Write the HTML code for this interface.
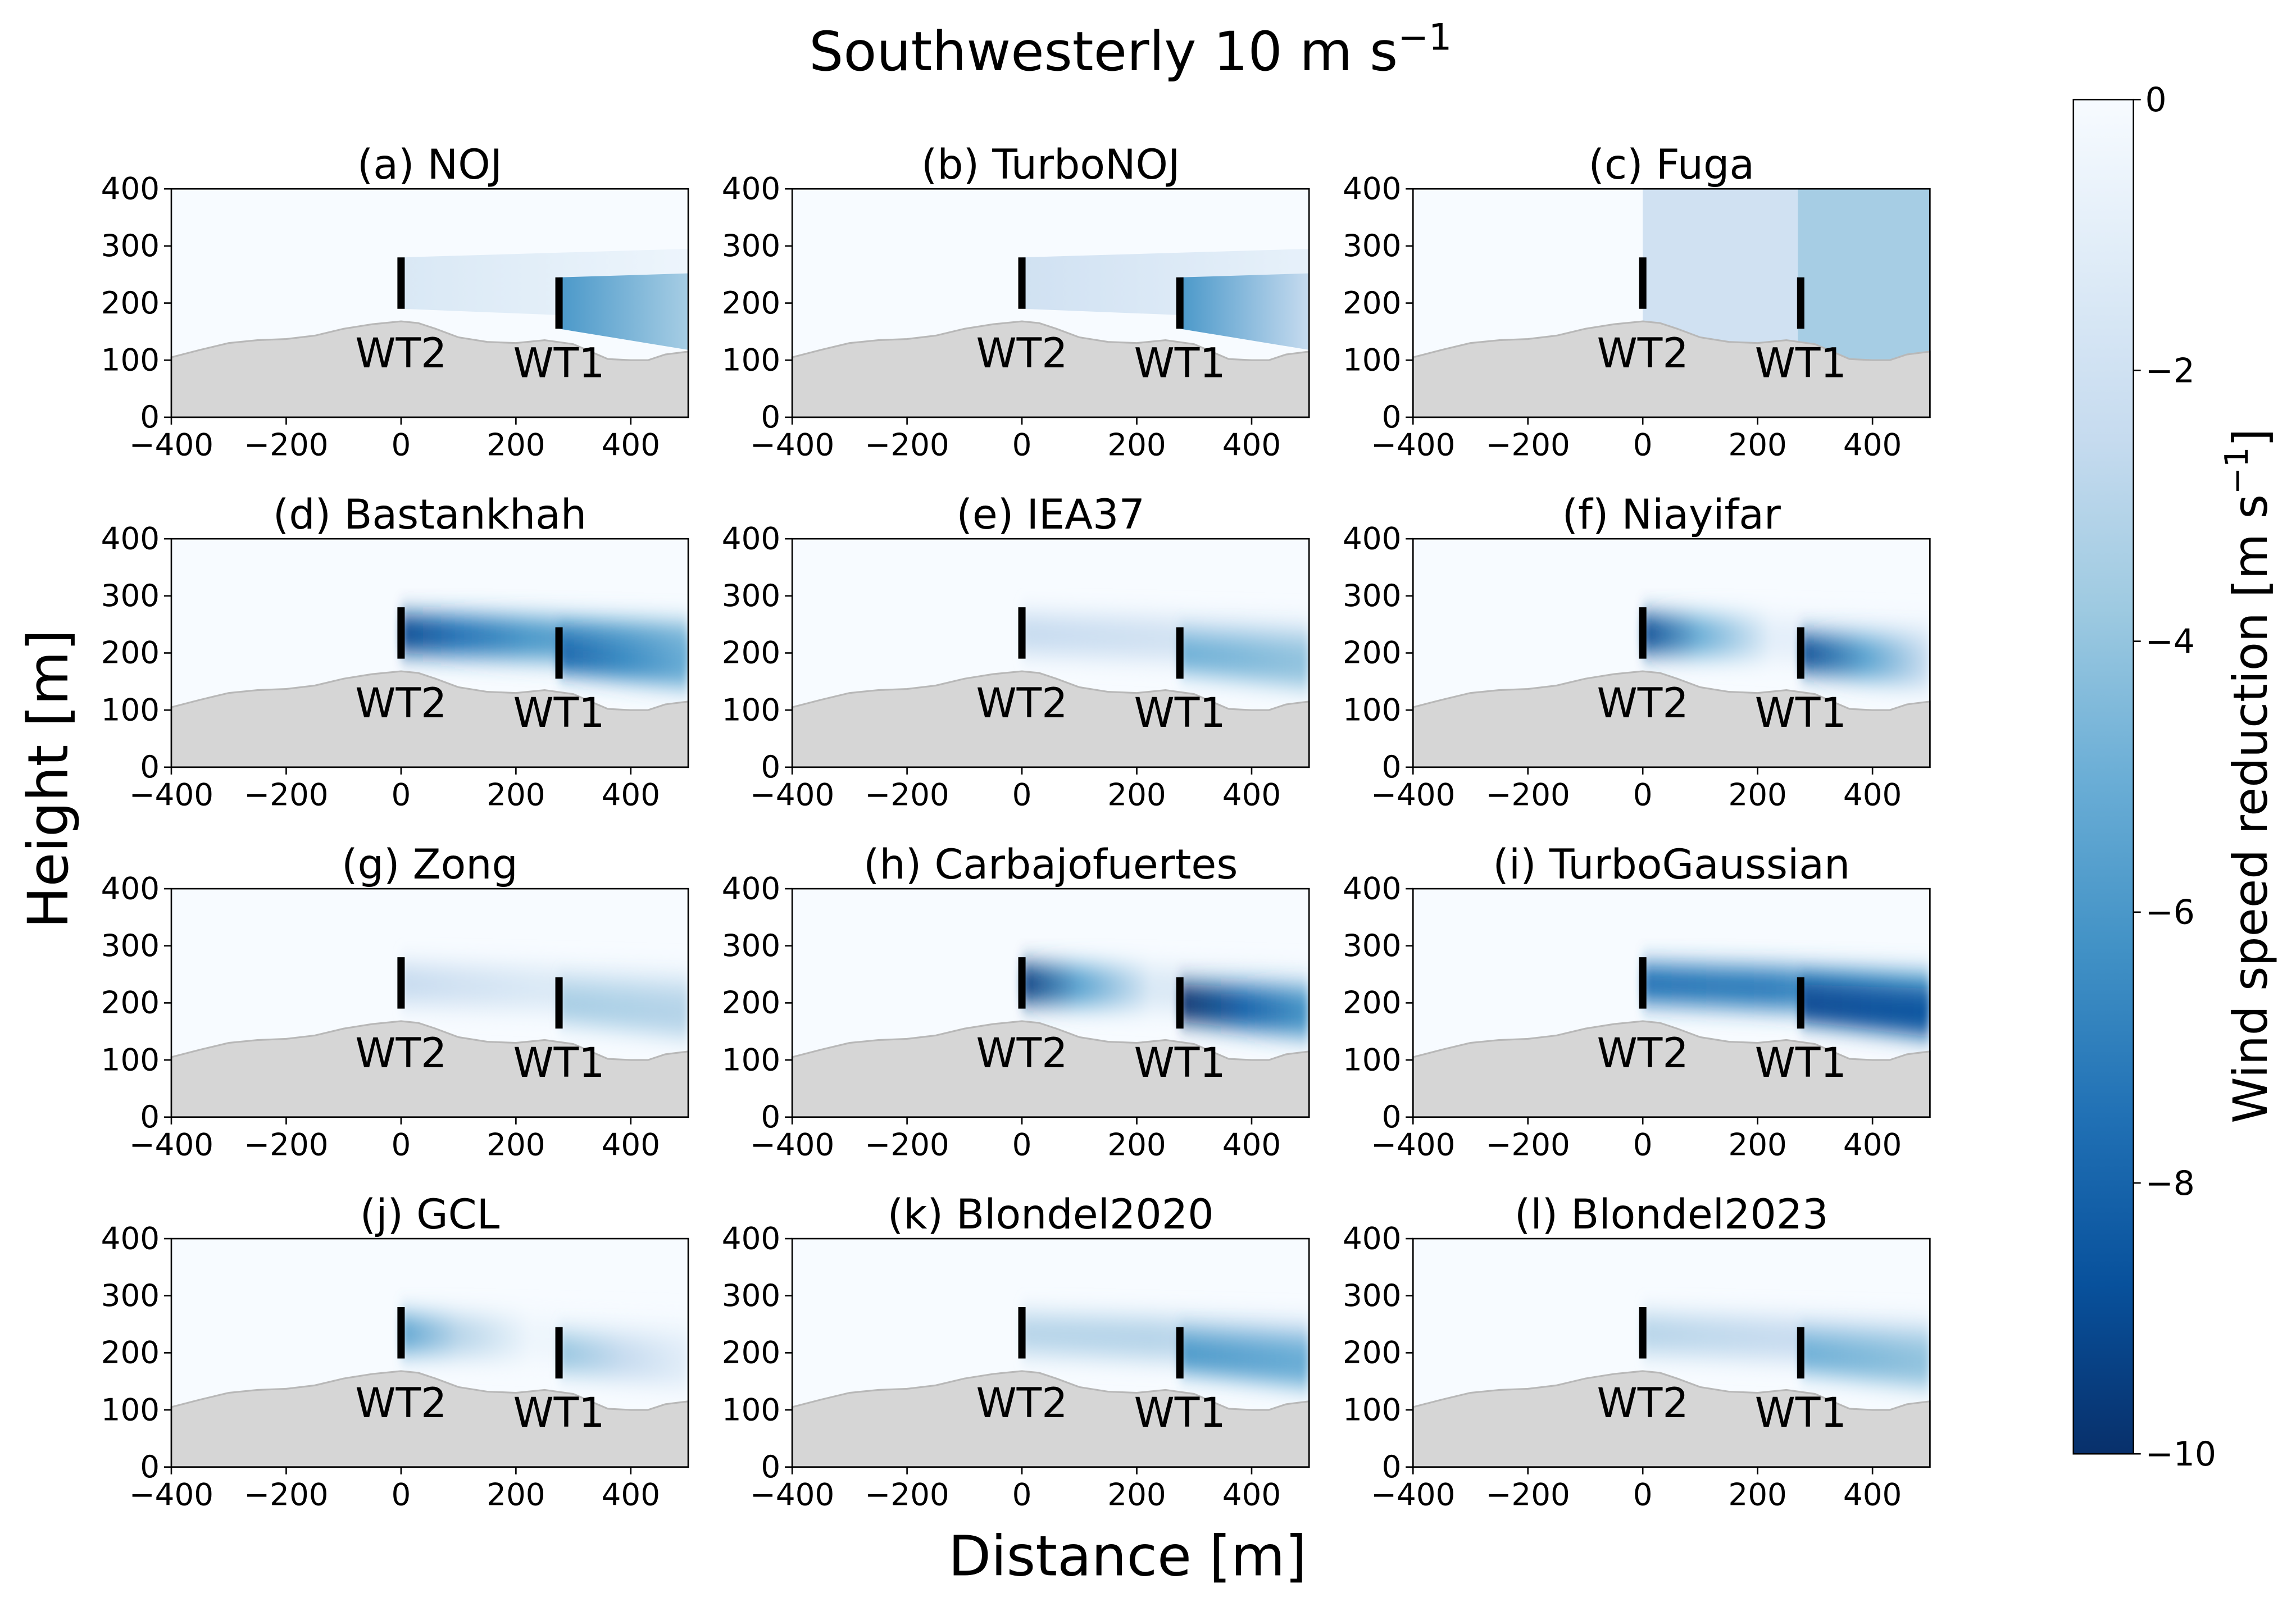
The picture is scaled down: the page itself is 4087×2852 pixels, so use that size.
<!DOCTYPE html>
<html><head><meta charset="utf-8"><style>body{margin:0;background:#fff}svg{display:block}text{font-family:"DejaVu Sans","Liberation Sans",sans-serif}</style></head>
<body>
<svg id="fig" xmlns="http://www.w3.org/2000/svg" width="4087" height="2852" viewBox="0 0 1568 1094.2">
<defs>
<filter id="blurV" x="-10%" y="-50%" width="120%" height="200%"><feGaussianBlur stdDeviation="3 8"/></filter>
<linearGradient id="cbar" x1="0" y1="0" x2="0" y2="1">
<stop offset="0" stop-color="#f7fbff"/><stop offset="0.125" stop-color="#deebf7"/><stop offset="0.25" stop-color="#c6dbef"/><stop offset="0.375" stop-color="#9ecae1"/><stop offset="0.5" stop-color="#6baed6"/><stop offset="0.625" stop-color="#4292c6"/><stop offset="0.75" stop-color="#2171b5"/><stop offset="0.875" stop-color="#08519c"/><stop offset="1" stop-color="#08306b"/>
</linearGradient>
</defs>
<text x="772" y="48" font-size="37" text-anchor="middle">Southwesterly 10 m s<tspan dy="-14" font-size="25">−1</tspan></text>
<text transform="translate(46,532) rotate(-90)" font-size="38" text-anchor="middle">Height [m]</text>
<text x="770" y="1076" font-size="38" text-anchor="middle">Distance [m]</text>
<g id="panels"></g>
<g id="cb"></g>
</svg>
<script>
const titles=["(a) NOJ","(b) TurboNOJ","(c) Fuga","(d) Bastankhah","(e) IEA37","(f) Niayifar","(g) Zong","(h) Carbajofuertes","(i) TurboGaussian","(j) GCL","(k) Blondel2020","(l) Blondel2023"];
const wakeType=["tophat","tophat","fuga","gauss","gauss","gauss","gauss","gauss","gauss","gauss","gauss","gauss"];
const wt2Peak=[1.5,2,2,9,2.5,9,2.5,9.5,7.5,5.5,3,3];
const wt2End=[0.5,0.8,2,6,2,1,1.5,1.5,7,0.5,3,2.5];
const wt1Peak=[6,6,3.5,8,5,9,3.5,10,9,4,6,5];
const wt1End=[3.5,2.5,3.5,5,4,2,3,6,8.5,1,5,4];
const terrainX=[-400,-350,-300,-250,-200,-150,-100,-50,0,30,60,100,150,200,250,300,330,360,400,430,460,500];
const terrainH=[105,118,130,135,137,143,155,163,168,165,155,140,132,130,135,128,115,102,100,100,110,115];
const turbineX=[0,275];
const turbineBot=[190,155];
const turbineTop=[280,245];
const xTicks=[-400,-200,0,200,400];
const yTicks=[0,100,200,300,400];
const cbTicks=[0,-2,-4,-6,-8,-10];

const NS="http://www.w3.org/2000/svg";
const stops=["#f7fbff","#deebf7","#c6dbef","#9ecae1","#6baed6","#4292c6","#2171b5","#08519c","#08306b"];
function hex(c){return [1,3,5].map(i=>parseInt(c.substr(i,2),16));}
function cmap(d){let t=Math.min(1,Math.max(0,d/10))*8;let i=Math.min(7,Math.floor(t));let f=t-i;let a=hex(stops[i]),b=hex(stops[i+1]);return "rgb("+a.map((v,k)=>Math.round(v+(b[k]-v)*f)).join(",")+")";}
function mk(tag,attrs,parent){const e=document.createElementNS(NS,tag);for(const k in attrs)e.setAttribute(k,attrs[k]);parent.appendChild(e);return e;}
const colL=[117,541,965],rowB=[285,524,763,1002],W=353,H=156;
const root=document.getElementById("panels");
let gid=0;
titles.forEach((t,p)=>{
 const L=colL[p%3],B=rowB[Math.floor(p/3)];
 const px=x=>L+(x+400)*W/900, py=h=>B-h*H/400;
 const g=mk("g",{},root);
 
 
 const cp=mk("clipPath",{id:"cp"+p},g);mk("rect",{x:L,y:B-H,width:W,height:H},cp);
 const bg=mk("rect",{x:L,y:B-H,width:W,height:H,fill:"#f7fbff"},g);
 
 
 const wg=mk("g",{"clip-path":"url(#cp"+p+")"},g);
 function grad(list){const id="g"+(gid++);const lg=mk("linearGradient",{id:id,x1:"0",y1:"0",x2:"1",y2:"0"},wg);list.forEach(s=>mk("stop",{offset:s[0],"stop-color":cmap(s[1])},lg));return "url(#"+id+")";}
 const ty=wakeType[p];
 if(ty==="fuga"){
  const r1=mk("rect",{x:px(0),y:B-H,width:px(270)-px(0),height:H,fill:cmap(wt2Peak[p])},wg);
  
  
  const r2=mk("rect",{x:px(270),y:B-H,width:px(500)-px(270),height:H,fill:cmap(wt1Peak[p])},wg);
  
  
 } else if(ty==="tophat"){
  const w2=mk("polygon",{points:[px(0),py(280),px(500),py(295),px(500),py(170),px(0),py(190)].join(" "),fill:grad([[0,wt2Peak[p]],[1,wt2End[p]]])},wg);
  
  
  const w1=mk("polygon",{points:[px(275),py(245),px(500),py(252),px(500),py(118),px(275),py(155)].join(" "),fill:grad([[0,wt1Peak[p]],[1,wt1End[p]]])},wg);
  
  
 } else {
  const a=wt2Peak[p],e=wt2End[p];
  const w2=mk("polygon",{points:[px(0),py(268),px(500),py(255),px(500),py(175),px(0),py(200)].join(" "),fill:grad([[0,a],[0.2,(a+e)/2],[0.45,e],[1,e*0.7]]),filter:"url(#blurV)"},wg);
  
  
  const b=wt1Peak[p],f=wt1End[p];
  const w1=mk("polygon",{points:[px(275),py(232),px(500),py(225),px(500),py(140),px(275),py(168)].join(" "),fill:grad([[0,b],[0.5,(b+f)/2],[1,f]]),filter:"url(#blurV)"},wg);
  
  
 }
 let d="M"+px(terrainX[0])+","+py(0);
 terrainX.forEach((x,i)=>{d+=" L"+px(x)+","+py(terrainH[i]);});
 d+=" L"+px(500)+","+py(0)+" Z";
 const ter=mk("path",{d:d,fill:"#d6d6d6",stroke:"#b8b8b8","stroke-width":1.2},g);
 
 
 ["WT2","WT1"].forEach((nm,i)=>{
  const tb=mk("line",{x1:px(turbineX[i]),x2:px(turbineX[i]),y1:py(turbineBot[i]),y2:py(turbineTop[i]),stroke:"#000","stroke-width":5},g);
  
  
  const lb=mk("text",{x:px(turbineX[i]),y:py(turbineBot[i])+(i===0?40:33),"font-size":28,"text-anchor":"middle"},g);
  lb.textContent=nm;
  
  
 });
 const fr=mk("rect",{x:L,y:B-H,width:W,height:H,fill:"none",stroke:"#000","stroke-width":1},g);
 
 
 xTicks.forEach(v=>{
  mk("line",{x1:px(v),x2:px(v),y1:B,y2:B+5,stroke:"#000","stroke-width":1},g);
  const tx=mk("text",{x:px(v),y:B+26,"font-size":21,"text-anchor":"middle"},g);
  tx.textContent=v<0?"−"+(-v):String(v);
  
  
 });
 yTicks.forEach(v=>{
  mk("line",{x1:L-5,x2:L,y1:py(v),y2:py(v),stroke:"#000","stroke-width":1},g);
  const tx=mk("text",{x:L-8,y:py(v)+7,"font-size":21,"text-anchor":"end"},g);
  tx.textContent=String(v);
  
  
 });
 const tt=mk("text",{x:L+W/2,y:B-H-7,"font-size":28,"text-anchor":"middle"},g);
 tt.textContent=t;
 
 
});
const cb=document.getElementById("cb");
const cT=68,cBt=993,cL=1416,cW=41;
mk("rect",{x:cL,y:cT,width:cW,height:cBt-cT,fill:"url(#cbar)",stroke:"#000","stroke-width":1},cb);
cbTicks.forEach(v=>{
 const y=cT+(-v/10)*(cBt-cT);
 mk("line",{x1:cL+cW,x2:cL+cW+5,y1:y,y2:y,stroke:"#000","stroke-width":1},cb);
 const tx=mk("text",{x:cL+cW+8,y:y+8,"font-size":23},cb);
 tx.textContent=v<0?"−"+(-v):"0";
 
 
});
const cl=mk("text",{transform:"translate(1548,530) rotate(-90)","font-size":32,"text-anchor":"middle"},cb);
cl.innerHTML='Wind speed reduction [m s<tspan dy="-13" font-size="22">−1</tspan><tspan dy="13">]</tspan>';


</script>
</body></html>
